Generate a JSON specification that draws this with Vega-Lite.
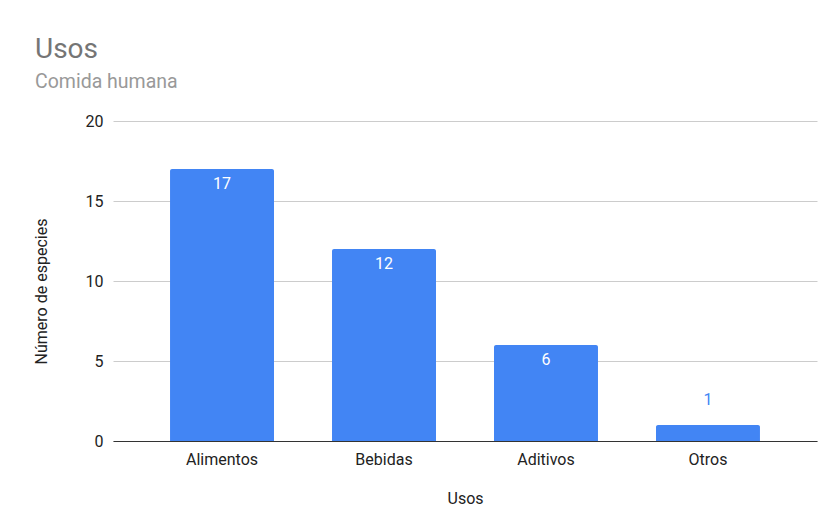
{
  "$schema": "https://vega.github.io/schema/vega-lite/v6.json",
  "autosize": {"type": "none"},
  "width": 704,
  "height": 320,
  "padding": {"left": 113, "top": 121, "right": 13, "bottom": 87},
  "background": "white",
  "title": {
    "text": "Usos",
    "subtitle": "Comida humana",
    "anchor": "start",
    "frame": "group",
    "dx": -78,
    "offset": 22,
    "font": "Roboto",
    "fontSize": 28,
    "fontWeight": "normal",
    "color": "#757575",
    "subtitleFont": "Roboto",
    "subtitleFontSize": 19.5,
    "subtitleColor": "#999999",
    "subtitlePadding": 9
  },
  "data": {
    "values": [
      {"uso": "Alimentos", "n": 17},
      {"uso": "Bebidas", "n": 12},
      {"uso": "Aditivos", "n": 6},
      {"uso": "Otros", "n": 1}
    ]
  },
  "encoding": {
    "x": {
      "field": "uso",
      "type": "nominal",
      "sort": null,
      "scale": {"paddingInner": 0.358, "paddingOuter": 0.352},
      "axis": {
        "title": "Usos",
        "labelAngle": 0,
        "labelFont": "Roboto",
        "labelFontSize": 16,
        "labelColor": "#222222",
        "labelPadding": 10,
        "titleFont": "Roboto",
        "titleFontSize": 16,
        "titleFontWeight": "normal",
        "titleColor": "#222222",
        "titlePadding": 23,
        "ticks": false,
        "domainColor": "#333333",
        "domainWidth": 1.2
      }
    },
    "y": {
      "field": "n",
      "type": "quantitative",
      "scale": {"domain": [0, 20]},
      "axis": {
        "title": "Número de especies",
        "values": [0, 5, 10, 15, 20],
        "labelFont": "Roboto",
        "labelFontSize": 16,
        "labelColor": "#222222",
        "labelPadding": 10,
        "titleFont": "Roboto",
        "titleFontSize": 16,
        "titleFontWeight": "normal",
        "titleColor": "#222222",
        "titlePadding": 36,
        "titleY": 170,
        "ticks": false,
        "domain": false,
        "gridColor": "#cccccc"
      }
    }
  },
  "layer": [
    {
      "mark": {"type": "bar", "color": "#4285F4", "cornerRadiusTopLeft": 2, "cornerRadiusTopRight": 2}
    },
    {
      "transform": [{"filter": "datum.n >= 3"}],
      "mark": {"type": "text", "baseline": "top", "dy": 7, "font": "Roboto", "fontSize": 16, "color": "white"},
      "encoding": {"text": {"field": "n"}}
    },
    {
      "transform": [{"filter": "datum.n < 3"}],
      "mark": {"type": "text", "baseline": "bottom", "dy": -17, "font": "Roboto", "fontSize": 16, "color": "#4285F4"},
      "encoding": {"text": {"field": "n"}}
    }
  ],
  "config": {"view": {"stroke": null}}
}
